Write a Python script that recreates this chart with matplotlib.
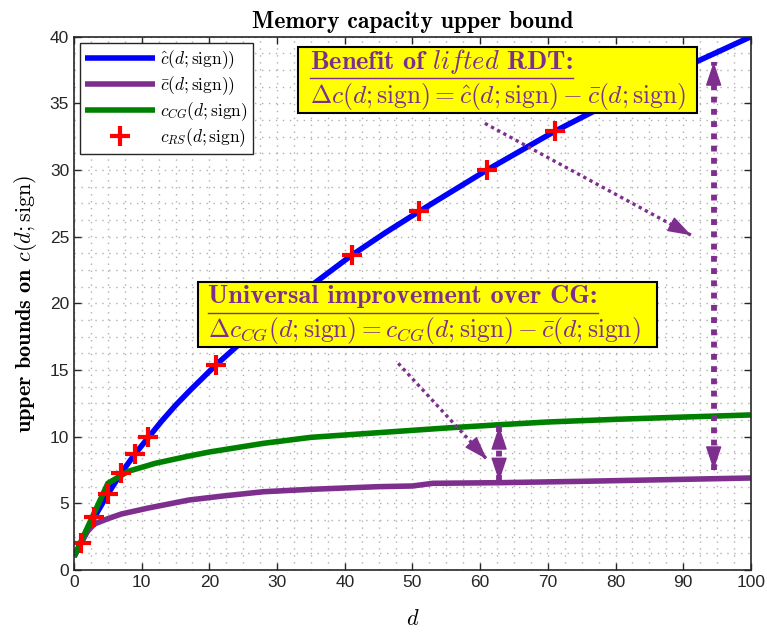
import numpy as np
import matplotlib
matplotlib.use("Agg")
import matplotlib.pyplot as plt
from matplotlib.ticker import MultipleLocator
from matplotlib.patches import Rectangle

plt.rcParams['font.family'] = ['Liberation Sans', 'DejaVu Sans']
plt.rcParams['mathtext.fontset'] = 'cm'

PURPLE = '#7E2F8E'

# lifted RDT upper bound  c_hat(d; sign)
d_hat = [0, 1, 3, 5, 7, 9, 11, 13, 15, 17, 19, 21, 26, 31, 36, 41, 46, 51, 56, 61, 66, 71, 81, 91, 100]
c_hat = [1.0, 2.0, 3.95, 5.7, 7.3, 8.7, 9.95, 11.2, 12.35, 13.4, 14.4, 15.4, 17.65, 19.75, 21.7,
         23.6, 25.3, 26.9, 28.45, 30.0, 31.45, 32.9, 35.5, 37.9, 40.0]

# plain RDT bound  c_bar(d; sign)
d_bar = [0, 1, 2, 3, 5, 7, 11, 17, 22, 28, 35, 45, 50, 53, 63, 75, 88, 100]
c_bar = [1.0, 2.0, 2.9, 3.45, 3.85, 4.2, 4.65, 5.25, 5.55, 5.87, 6.05, 6.25, 6.3, 6.5, 6.55, 6.65, 6.78, 6.9]

# Cover/Gardner bound  c_CG(d; sign)
d_cg = [0, 1, 3, 5, 8, 12, 17, 20, 28, 35, 45, 55, 63, 70, 80, 90, 100]
c_cg = [1.0, 2.1, 4.3, 6.5, 7.4, 8.0, 8.55, 8.85, 9.5, 9.95, 10.3, 10.65, 10.9, 11.1, 11.3, 11.47, 11.63]

# replica symmetry points  c_RS(d; sign)
d_rs = [1, 3, 5, 7, 9, 11, 21, 41, 51, 61, 71]
c_rs = [2.0, 3.95, 5.7, 7.3, 8.7, 9.95, 15.4, 23.6, 26.9, 30.0, 32.9]

fig = plt.figure(figsize=(7.67, 6.37), dpi=100)
ax = fig.add_axes([0.0965, 0.1052, 0.979 - 0.0965, 0.9424 - 0.1052])

ax.plot(d_hat, c_hat, color='#0000FF', lw=4, solid_capstyle='butt',
        label=r'$\hat{c}(d;\mathrm{sign}))$')
ax.plot(d_bar, c_bar, color=PURPLE, lw=4, solid_capstyle='butt',
        label=r'$\bar{c}(d;\mathrm{sign}))$')
ax.plot(d_cg, c_cg, color='#008000', lw=4, solid_capstyle='butt',
        label=r'$c_{CG}(d;\mathrm{sign})$')
ax.plot(d_rs, c_rs, ls='none', marker='+', ms=14, mew=3, color='#FF0000',
        label=r'$c_{RS}(d;\mathrm{sign})$')

ax.set_xlim(0, 100)
ax.set_ylim(0, 40)
ax.xaxis.set_major_locator(MultipleLocator(10))
ax.yaxis.set_major_locator(MultipleLocator(5))
ax.xaxis.set_minor_locator(MultipleLocator(2.5))
ax.yaxis.set_minor_locator(MultipleLocator(1.25))
ax.tick_params(which='both', direction='in', top=True, right=True, labelsize=12.5, colors='#262626')
ax.tick_params(which='major', length=5, width=1)
ax.tick_params(which='minor', length=0)
ax.grid(which='both', color='#b0b0b0', ls=(0, (1, 4)), lw=1.0)
for s in ax.spines.values():
    s.set_color('#262626')
    s.set_linewidth(1.2)

ax.set_title('Memory capacity upper bound', fontsize=17, pad=6, family='cmb10')
ax.set_xlabel(r'$d$', fontsize=16, labelpad=14)
ax.set_ylabel(r'upper bounds on $c(d;\mathrm{sign})$', fontsize=16, labelpad=8, family='cmb10')

leg = ax.legend(loc='upper left', fontsize=12.5, handlelength=4, borderaxespad=0.35,
                fancybox=False, framealpha=1, edgecolor='#262626', labelspacing=0.2,
                borderpad=0.3, handletextpad=0.3)
leg.get_frame().set_linewidth(1.0)

# annotation boxes: (box x0, x1, y0, y1), text x, heading / rule / formula baselines
boxes = [
    ((33.1, 92.0, 34.28, 39.24), 34.9, (37.6, 36.9, 35.05),
     r'Benefit of $\mathit{lifted}$ RDT:',
     r'$\Delta c(d;\mathrm{sign})=\hat{c}(d;\mathrm{sign})-\bar{c}(d;\mathrm{sign})$'),
    ((18.36, 86.07, 16.75, 21.63), 19.84, (20.0, 19.3, 17.5),
     r'Universal improvement over CG:',
     r'$\Delta c_{CG}(d;\mathrm{sign})=c_{CG}(d;\mathrm{sign})-\bar{c}(d;\mathrm{sign})$'),
]
heads = []
for (x0, x1, y0, y1), tx, (yh, yr, yf), top, bot in boxes:
    ax.add_patch(Rectangle((x0, y0), x1 - x0, y1 - y0, fc='#FFFF00', ec='black', lw=1.5, zorder=6))
    h = ax.text(tx, yh, top, color=PURPLE, fontsize=19, ha='left', va='baseline',
                zorder=7, family='cmb10')
    ax.text(tx, yf, bot, color=PURPLE, fontsize=18.3, ha='left', va='baseline', zorder=7)
    heads.append((h, tx, yr))


def arrow(tail, tip, lw, both=False):
    ax.plot([tail[0], tip[0]], [tail[1], tip[1]], color=PURPLE, lw=lw,
            ls=(0, (1, 1.1)), solid_capstyle='butt', dash_capstyle='butt', zorder=5)
    hp = dict(arrowstyle='-|>,head_length=1.5,head_width=0.5', color=PURPLE, lw=1,
              shrinkA=0, shrinkB=0)
    ends = [(tail, tip), (tip, tail)] if both else [(tail, tip)]
    for a, b in ends:
        back = (b[0] + 0.03 * (a[0] - b[0]), b[1] + 0.03 * (a[1] - b[1]))
        ax.annotate('', xy=b, xytext=back, arrowprops=hp, zorder=6)


arrow((47.9, 15.5), (61.0, 8.3), 2.4)
arrow((60.7, 33.5), (91.2, 25.1), 2.4)
arrow((62.8, 6.65), (62.8, 10.8), 4.2, both=True)
arrow((94.5, 7.5), (94.5, 38.1), 4.2, both=True)

# rule under each heading, as wide as the heading
fig.canvas.draw()
r = fig.canvas.get_renderer()
for h, tx, yr in heads:
    bb = h.get_window_extent(r).transformed(ax.transData.inverted())
    ax.plot([tx, bb.x1], [yr, yr], color=PURPLE, lw=1.0, zorder=8)

fig.savefig('out.png', dpi=100)
